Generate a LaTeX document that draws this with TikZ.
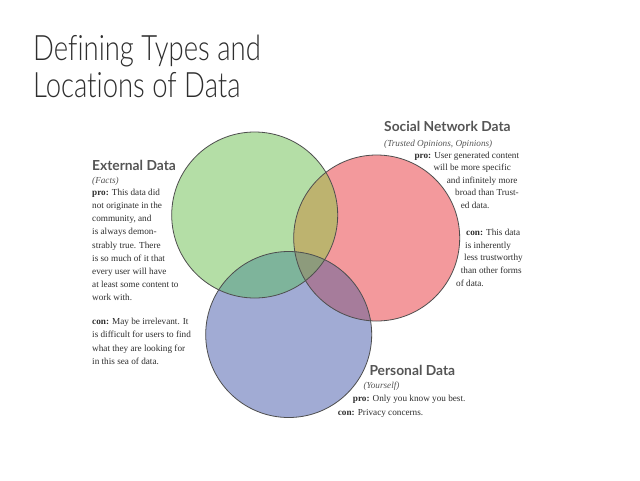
\documentclass[tikz,border=0pt]{standalone}
\usepackage{fontspec}
\setmainfont{Liberation Serif}
\newfontfamily\titlefont[FakeStretch=0.785, Ligatures=CommonOff]{Lato Light}
\newfontfamily\headfont{Lato}
\usetikzlibrary{positioning}
\definecolor{extgreen}{HTML}{B4DEA6}
\definecolor{socred}{HTML}{F3999C}
\definecolor{perblue}{HTML}{A1ABD4}
\definecolor{greenred}{HTML}{BDB36F}
\definecolor{greenblue}{HTML}{7EB49B}
\definecolor{redblue}{HTML}{A67C9B}
\definecolor{allthree}{HTML}{8D9B7C}
\definecolor{rimgray}{HTML}{4E4E4E}
\definecolor{headgray}{HTML}{555555}
\definecolor{bodygray}{HTML}{2E2E2E}

\tikzset{
  rim/.style={draw=rimgray, line width=0.8pt},
  heading/.style={font=\headfont\bfseries\fontsize{13.8}{15}\selectfont, text=headgray, anchor=base west, inner sep=0pt},
  bodyline/.style={font=\fontsize{9.2}{13.2}\selectfont, text=bodygray, anchor=base west, inner sep=0pt},
  subline/.style={bodyline, font=\fontsize{9.2}{13.2}\selectfont\itshape, text=headgray}
}

\begin{document}
\begin{tikzpicture}[x=1pt, y=-1pt]
  \useasboundingbox (0,0) rectangle (640,480);
  \fill[white] (0,0) rectangle (640,480);

  % title
  \node[font=\titlefont\fontsize{35}{37.5}\selectfont, text=bodygray, anchor=base west, inner sep=0pt] (title1) at (33,60) {Defining Types and};
  \node[font=\titlefont\fontsize{35}{37.5}\selectfont, text=bodygray, anchor=base west, inner sep=0pt] (title2) at (33,97.3) {Locations of Data};

  % venn circles
  \coordinate (extc) at (254.7,215);
  \coordinate (socc) at (376.7,238);
  \coordinate (perc) at (288.7,334.5);
  \fill[extgreen] (extc) circle[radius=83pt];
  \fill[socred] (socc) circle[radius=83pt];
  \fill[perblue] (perc) circle[radius=83pt];
  \begin{scope}
    \clip (socc) circle[radius=83pt];
    \fill[redblue] (perc) circle[radius=83pt];
  \end{scope}
  \begin{scope}
    \clip (extc) circle[radius=83pt];
    \fill[greenred] (socc) circle[radius=83pt];
    \fill[greenblue] (perc) circle[radius=83pt];
    \clip (socc) circle[radius=83pt];
    \fill[allthree] (perc) circle[radius=83pt];
  \end{scope}
  \draw[rim] (extc) circle[radius=83pt];
  \draw[rim] (socc) circle[radius=83pt];
  \draw[rim] (perc) circle[radius=83pt];

  % external data
  \node[heading] (exthead) at (92,170.7) {External Data};
  \node[subline] (extsub) at (92,183.5) {(Facts)};
  \foreach \y/\txt [count=\i] in {195.3/{\textbf{pro:} This data did}, 208.5/{not originate in the},
      221.7/{community, and}, 234.9/{is always demon-}, 248.1/{strably true. There},
      261.3/{is so much of it that}, 274.5/{every user will have}, 287.7/{at least some content to},
      300.9/{work with.}, 324.7/{\textbf{con:} May be irrelevant. It}, 337.9/{is difficult for users to find},
      351.1/{what they are looking for}, 364.3/{in this sea of data.}}
    \node[bodyline] (ext-\i) at (92,\y) {\txt};

  % social network data
  \node[heading] (sochead) at (384,131.7) {Social Network Data};
  \node[subline] (socsub) at (384,146) {(Trusted Opinions, Opinions)};
  \foreach \x/\y/\txt [count=\i] in {414.3/158/{\textbf{pro:} User generated content},
      433.3/170.5/{will be more specific}, 446.7/183/{and infinitely more},
      455/195.5/{broad than Trust-}, 460.7/208/{ed data.},
      466/235.5/{\textbf{con:} This data}, 465/248/{is inherently},
      464/260.7/{less trustworthy}, 460.7/273.5/{than other forms}, 456/286/{of data.}}
    \node[bodyline] (soc-\i) at (\x,\y) {\txt};

  % personal data
  \node[heading] (perhead) at (369.3,375.5) {Personal Data};
  \node[subline] (persub) at (363.3,388.5) {(Yourself)};
  \node[bodyline] (per-1) at (352.7,401.5) {\textbf{pro:} Only you know you best.};
  \node[bodyline] (per-2) at (337.7,415) {\textbf{con:} Privacy concerns.};
\end{tikzpicture}
\end{document}
